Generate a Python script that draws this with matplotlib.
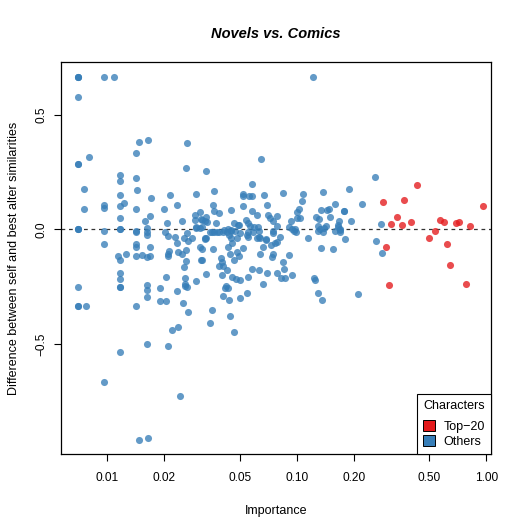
import matplotlib
matplotlib.use("Agg")
import matplotlib.pyplot as plt
from matplotlib.patches import Patch

plt.rcParams['font.family'] = ['Liberation Sans', 'DejaVu Sans']

# top-20 characters (importance, difference)
top20 = [
    (0.43, 0.194), (0.285, 0.121), (0.37, 0.13), (0.96, 0.104), (0.34, 0.053),
    (0.316, 0.024), (0.36, 0.020), (0.40, 0.033), (0.57, 0.043), (0.595, 0.031),
    (0.69, 0.027), (0.72, 0.031), (0.82, 0.015), (0.537, -0.005), (0.497, -0.037),
    (0.297, -0.078), (0.62, -0.062), (0.644, -0.154), (0.305, -0.244), (0.78, -0.239),
]

# all the other characters
others = [
    # top row / upper outliers
    (0.007, 0.667), (0.007, 0.667), (0.007, 0.667), (0.0096, 0.667), (0.0108, 0.667),
    (0.122, 0.667), (0.007, 0.577), (0.0147, 0.382), (0.0164, 0.391), (0.0142, 0.333),
    (0.0263, 0.379), (0.008, 0.318), (0.007, 0.286), (0.007, 0.286), (0.026, 0.267),
    (0.033, 0.255), (0.0117, 0.238), (0.0117, 0.213), (0.0142, 0.226), (0.0075, 0.178),
    (0.0117, 0.151), (0.0143, 0.171), (0.017, 0.139), (0.0215, 0.149), (0.0293, 0.155),
    (0.0366, 0.169), (0.0075, 0.091), (0.0096, 0.106), (0.0096, 0.095), (0.0117, 0.104),
    (0.0122, 0.116), (0.0142, 0.091), (0.0168, 0.059), (0.0159, 0.038), (0.0117, 0.05),
    (0.0199, 0.091), (0.0233, 0.107), (0.0206, 0.027), (0.0247, 0.038), (0.029, 0.063),
    (0.029, 0.041), (0.031, 0.076), (0.0316, 0.041), (0.033, 0.056), (0.0335, 0.033),
    (0.0294, 0.012), (0.036, 0.107), (0.0367, 0.082), (0.0388, 0.071), (0.045, 0.086),
    (0.0376, 0.028), (0.065, 0.306), (0.058, 0.2), (0.052, 0.155), (0.052, 0.148),
    (0.056, 0.146), (0.058, 0.146), (0.067, 0.151), (0.085, 0.161), (0.108, 0.154),
    (0.106, 0.126), (0.137, 0.162), (0.188, 0.177), (0.052, 0.103), (0.07, 0.107),
    (0.16, 0.11), (0.058, 0.079), (0.062, 0.063), (0.0705, 0.063), (0.072, 0.05),
    (0.075, 0.036), (0.079, 0.058), (0.103, 0.09), (0.1, 0.076), (0.1, 0.05),
    (0.104, 0.049), (0.093, 0.036), (0.134, 0.086), (0.145, 0.084), (0.148, 0.088),
    (0.15, 0.053), (0.126, 0.056), (0.131, 0.046), (0.168, 0.037), (0.165, 0.012),
    (0.17, 0.001), (0.0313, 0.046), (0.0328, 0.037), (0.259, 0.231), (0.22, 0.113),
    (0.177, 0.081), (0.177, 0.081), (0.194, 0.037), (0.28, 0.023),
    # around zero
    (0.007, 0.0), (0.007, 0.0), (0.007, 0.0), (0.0096, -0.005), (0.0117, 0.0),
    (0.0117, 0.0), (0.0142, -0.005), (0.0142, -0.012), (0.0163, 0.007), (0.0163, -0.012),
    (0.0163, -0.024), (0.0202, -0.01), (0.021, -0.028), (0.0228, -0.034), (0.0263, -0.014),
    (0.0232, -0.06), (0.0254, -0.038), (0.0268, -0.05), (0.0281, -0.037), (0.0293, 0.008),
    (0.031, 0.008), (0.0329, -0.04), (0.031, -0.078), (0.0315, -0.086), (0.0317, 0.01),
    (0.033, -0.036), (0.0415, -0.002), (0.0433, 0.003), (0.0448, -0.002), (0.0464, 0.027),
    (0.0497, 0.018), (0.0537, 0.041), (0.055, 0.028), (0.0567, 0.015), (0.0595, 0.01),
    (0.0625, 0.01), (0.0553, -0.034), (0.0635, -0.033), (0.0685, -0.041), (0.0815, -0.034),
    (0.114, -0.036), (0.075, -0.005), (0.079, 0.015), (0.0912, 0.012), (0.094, 0.004),
    (0.098, 0.001), (0.13, 0.015), (0.133, 0.001), (0.142, 0.017), (0.139, 0.005),
    (0.165, 0.018), (0.18, -0.043), (0.0357, -0.01), (0.0378, -0.012), (0.0427, -0.011),
    (0.049, 0.02), (0.035, -0.01), (0.0365, -0.01), (0.039, -0.013), (0.041, -0.01),
    (0.045, -0.007), (0.047, -0.005), (0.05, -0.015), (0.055, -0.01), (0.059, -0.01),
    (0.063, -0.005), (0.075, -0.015), (0.097, -0.005), (0.099, -0.01), (0.13, -0.005),
    (0.137, -0.01), (0.16, -0.008), (0.17, -0.012), (0.17, -0.002),
    # below zero
    (0.0096, -0.062), (0.0142, -0.063), (0.0142, -0.075), (0.0168, -0.078), (0.0114, -0.116),
    (0.0117, -0.133), (0.0126, -0.108), (0.0142, -0.116), (0.0152, -0.113), (0.0163, -0.121),
    (0.0168, -0.116), (0.0117, -0.191), (0.0117, -0.215), (0.0117, -0.251), (0.0117, -0.251),
    (0.007, -0.25), (0.007, -0.334), (0.007, -0.334), (0.0077, -0.334), (0.0142, -0.334),
    (0.0162, -0.242), (0.0162, -0.264), (0.0163, -0.295), (0.0189, -0.254), (0.0189, -0.312),
    (0.0203, -0.312), (0.0203, -0.206), (0.0233, -0.267), (0.0251, -0.322), (0.0266, -0.36),
    (0.0257, -0.213), (0.0257, -0.238), (0.0257, -0.245), (0.0264, -0.251), (0.0294, -0.224),
    (0.033, -0.193), (0.0314, -0.132), (0.0254, -0.165), (0.026, -0.138), (0.021, -0.108),
    (0.021, -0.117), (0.0237, -0.1), (0.0247, -0.106), (0.026, -0.09), (0.0211, -0.093),
    (0.022, -0.439), (0.0236, -0.424), (0.0163, -0.501), (0.021, -0.509), (0.0117, -0.535),
    (0.0096, -0.667), (0.0242, -0.728), (0.0147, -0.919), (0.0164, -0.912),
    (0.0328, -0.038), (0.036, -0.085), (0.0315, -0.133), (0.0396, -0.126), (0.0405, -0.141),
    (0.0388, -0.159), (0.0407, -0.159), (0.0427, -0.178), (0.0405, -0.199), (0.0444, -0.107),
    (0.0483, -0.097), (0.0498, -0.116), (0.0465, -0.133), (0.0522, -0.079), (0.0483, -0.038),
    (0.0432, -0.078), (0.0455, -0.06), (0.045, -0.038), (0.044, -0.024), (0.0453, -0.209),
    (0.0477, -0.216), (0.05, -0.22), (0.0425, -0.245), (0.0432, -0.257), (0.0418, -0.257),
    (0.0406, -0.289), (0.044, -0.306), (0.05, -0.3), (0.0544, -0.276), (0.0357, -0.353),
    (0.0446, -0.376), (0.035, -0.407), (0.0465, -0.446), (0.0554, -0.206), (0.058, -0.171),
    (0.0634, -0.177), (0.07, -0.191), (0.066, -0.239), (0.0544, -0.024), (0.0615, -0.036),
    (0.064, -0.036), (0.0665, -0.075), (0.0685, -0.046), (0.0733, -0.068), (0.0748, -0.108),
    (0.0785, -0.053), (0.0767, -0.06), (0.074, -0.119), (0.079, -0.189), (0.0822, -0.213),
    (0.0855, -0.174), (0.085, -0.141), (0.0867, -0.213), (0.091, -0.111), (0.0943, -0.199),
    (0.0642, -0.107), (0.135, -0.082), (0.156, -0.085), (0.124, -0.21), (0.125, -0.222),
    (0.13, -0.276), (0.136, -0.309), (0.21, -0.28), (0.262, -0.049), (0.282, -0.103),
]

xticks = [0.01, 0.02, 0.05, 0.10, 0.20, 0.50, 1.00]
xtick_labels = ["0.01", "0.02", "0.05", "0.10", "0.20", "0.50", "1.00"]
yticks = [-0.5, 0.0, 0.5]

blue = '#377EB8'
red = '#E41A1C'

fig = plt.figure(figsize=(5.32, 5.32), dpi=100)
ax = fig.add_axes([0.1147, 0.1466, 0.8083, 0.7369])

ox, oy = zip(*others)
tx, ty = zip(*top20)
ax.scatter(ox, oy, s=26, color=blue, alpha=0.78, linewidths=0, zorder=2)
ax.scatter(tx, ty, s=26, color=red, alpha=0.78, linewidths=0, zorder=3)
ax.axhline(0, color='#333333', linestyle=(0, (3, 3)), linewidth=0.9, zorder=1)

ax.set_xscale('log')
ax.set_xlim(0.0057, 1.06)
ax.set_ylim(-0.98, 0.731)
ax.set_xticks(xticks)
ax.set_xticklabels(xtick_labels)
ax.minorticks_off()
ax.set_yticks(yticks)
ax.set_yticklabels(["\u22120.5", "0.0", "0.5"], rotation=90, va='center')
ax.tick_params(axis='both', direction='out', length=5, width=0.8, labelsize=8.6)
ax.tick_params(axis='x', pad=8)
ax.tick_params(axis='y', pad=5)
for sp in ax.spines.values():
    sp.set_linewidth(0.9)

ax.set_xlabel("Importance", fontsize=9, labelpad=15)
ax.set_ylabel("Difference between self and best alter similarities", fontsize=9, labelpad=11)
ax.set_title("Novels vs. Comics", fontsize=10.5, fontweight='bold', fontstyle='italic', pad=17)

handles = [Patch(facecolor=red, edgecolor='black', linewidth=0.7, label='Top\u221220'),
           Patch(facecolor=blue, edgecolor='black', linewidth=0.7, label='Others')]
leg = ax.legend(handles=handles, title='Characters', loc='lower right', borderaxespad=0,
                fontsize=9, title_fontsize=9, fancybox=False, framealpha=1,
                edgecolor='black', handlelength=0.9, handleheight=0.9, handletextpad=0.7,
                borderpad=0.5, labelspacing=0.2)
leg._legend_box.sep = 6
leg.get_frame().set_linewidth(0.8)

fig.savefig('out.png', dpi=100)
